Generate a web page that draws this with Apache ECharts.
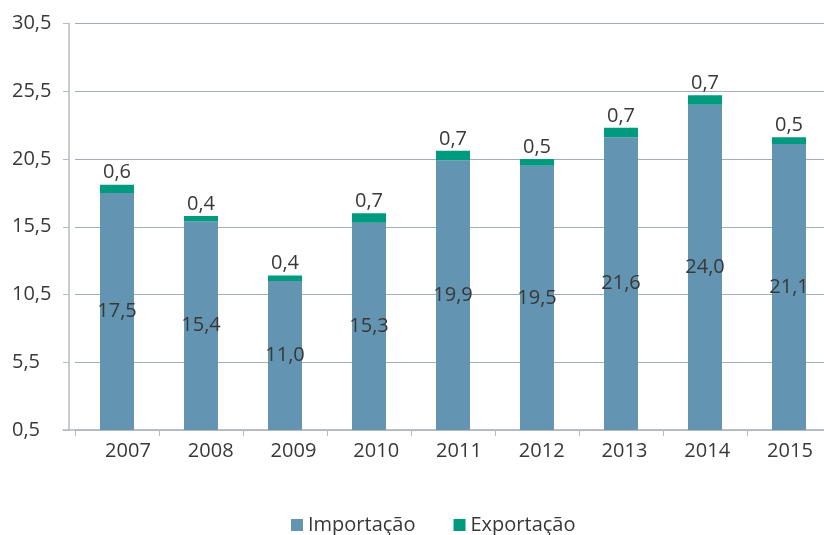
<!DOCTYPE html>
<html>
<head>
<meta charset="utf-8">
<script src="https://cdn.jsdelivr.net/npm/echarts@6/dist/echarts.min.js"></script>
<style>
  html, body { margin: 0; padding: 0; background: #fff; }
  #chart { width: 824px; height: 535px; }
</style>
</head>
<body>
<div id="chart"></div>
<script>
// dados
const years = ['2007', '2008', '2009', '2010', '2011', '2012', '2013', '2014', '2015'];
const importacao = [17.5, 15.4, 11.0, 15.3, 19.9, 19.5, 21.6, 24.0, 21.1];
const exportacao = [0.6, 0.4, 0.4, 0.7, 0.7, 0.5, 0.7, 0.7, 0.5];
// rótulos do eixo Y tal como aparecem (deslocados 0,5)
const yTickLabels = ['0,5', '5,5', '10,5', '15,5', '20,5', '25,5', '30,5'];

const fmt = (v) => v.toFixed(1).replace('.', ',');
const font = "'Open Sans', 'Noto Sans', sans-serif";
const txt = '#383838';
const axisGrey = '#b4bbc2';

const chart = echarts.init(document.getElementById('chart'));

chart.setOption({
  animation: false,
  backgroundColor: '#fff',
  textStyle: { fontFamily: font },
  grid: [
    // área das barras
    { left: 75, top: 23.5, width: 756, height: 406.5, outerBoundsMode: 'none' },
    // só os rótulos dos anos (espaçamento ligeiramente diferente no original)
    { left: 86.6, top: 23.5, width: 744.75, height: 406.5, outerBoundsMode: 'none' },
    // linha de base que começa à esquerda do eixo Y
    { left: 63, right: 0, top: 23.5, height: 406.5, outerBoundsMode: 'none' }
  ],
  legend: {
    data: ['Importação', 'Exportação'],
    top: 515,
    left: 291,
    icon: 'rect',
    itemWidth: 12,
    itemHeight: 12,
    itemGap: 38,
    padding: 0,
    textStyle: { color: txt, fontSize: 20, fontFamily: font }
  },
  xAxis: [
    {
      type: 'category',
      gridIndex: 0,
      data: years,
      axisLine: { lineStyle: { color: axisGrey, width: 1.5 } },
      axisTick: { show: true, length: 6, lineStyle: { color: axisGrey } },
      axisLabel: { show: false }
    },
    {
      type: 'category',
      gridIndex: 1,
      data: years,
      axisLine: { show: false },
      axisTick: { show: false },
      axisLabel: { color: txt, fontSize: 20, margin: 11, fontFamily: font }
    },
    {
      type: 'value',
      gridIndex: 2,
      axisLine: { show: true, onZero: false, lineStyle: { color: axisGrey, width: 1.5 } },
      axisTick: { show: false },
      axisLabel: { show: false },
      splitLine: { show: false }
    }
  ],
  yAxis: [
    {
      type: 'value',
      gridIndex: 0,
      min: 0,
      max: 30,
      interval: 5,
      offset: 6,
      axisLine: { show: true, lineStyle: { color: axisGrey, width: 1.5 } },
      axisTick: { show: true, length: 6, lineStyle: { color: axisGrey } },
      splitLine: { lineStyle: { color: '#a3adb6', width: 1.2 } },
      axisLabel: {
        color: txt,
        fontSize: 20,
        margin: 57,
        align: 'left',
        fontFamily: font,
        formatter: (v) => yTickLabels[Math.round(v / 5)]
      }
    },
    { type: 'value', gridIndex: 1, show: false },
    { type: 'value', gridIndex: 2, show: false }
  ],
  series: [
    {
      name: 'Importação',
      type: 'bar',
      stack: 'total',
      data: importacao,
      barWidth: 34,
      itemStyle: { color: '#6394b1' },
      label: {
        show: true,
        position: 'inside',
        color: txt,
        fontSize: 20,
        fontFamily: font,
        formatter: (p) => fmt(p.value)
      }
    },
    {
      name: 'Exportação',
      type: 'bar',
      stack: 'total',
      data: exportacao,
      barWidth: 34,
      itemStyle: { color: '#009a7e' },
      label: {
        show: true,
        position: 'top',
        distance: 2,
        color: txt,
        fontSize: 20,
        fontFamily: font,
        formatter: (p) => fmt(p.value)
      }
    }
  ]
});
</script>
</body>
</html>
